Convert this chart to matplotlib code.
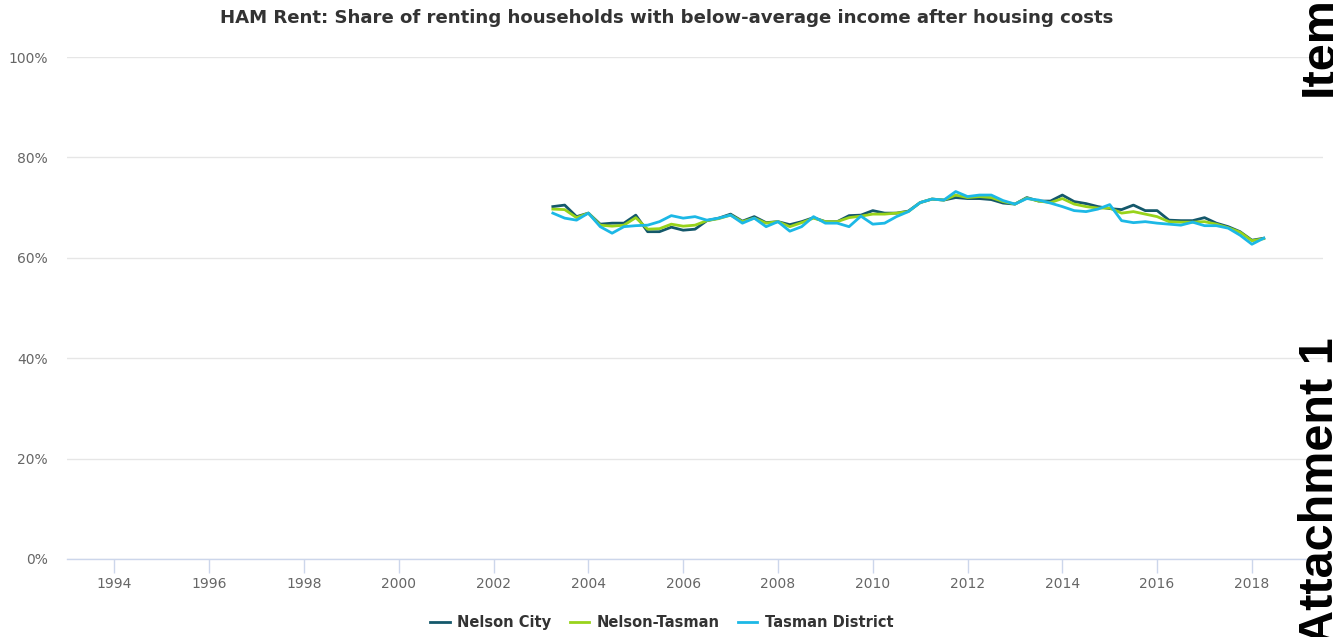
import matplotlib.pyplot as plt
import numpy as np

# Quarterly series, first quarter 2003.25 through 2018.25
start_year = 2003.25
nelson_city = [
    70.2, 70.5, 68.2, 68.9, 66.7, 66.9, 66.9, 68.5, 65.2, 65.2,
    66.1, 65.5, 65.7, 67.4, 67.9, 68.7, 67.3, 68.2, 67.0, 67.2,
    66.6, 67.2, 68.0, 67.2, 67.2, 68.4, 68.5, 69.4, 68.9, 68.9,
    69.3, 71.0, 71.7, 71.5, 72.0, 71.8, 71.8, 71.6, 70.9, 70.7,
    72.0, 71.3, 71.3, 72.5, 71.2, 70.8, 70.2, 69.8, 69.6, 70.5,
    69.4, 69.4, 67.5, 67.4, 67.4, 68.0, 66.9, 66.2, 65.2, 63.5,
    63.9,
]
nelson_tasman = [
    69.7, 69.6, 68.0, 68.9, 66.5, 66.3, 66.5, 68.0, 65.7, 65.8,
    66.7, 66.3, 66.5, 67.4, 67.8, 68.5, 67.2, 67.9, 66.9, 67.2,
    66.2, 67.0, 67.9, 67.2, 67.2, 68.0, 68.3, 68.7, 68.7, 68.9,
    69.2, 71.0, 71.7, 71.5, 72.5, 72.0, 72.2, 72.0, 71.2, 70.7,
    71.9, 71.3, 71.0, 71.8, 70.7, 70.2, 69.9, 69.9, 68.9, 69.2,
    68.7, 68.2, 67.2, 67.1, 67.1, 67.2, 66.7, 66.0, 65.1, 63.4,
    63.8,
]
tasman_district = [
    68.9, 67.9, 67.5, 68.9, 66.2, 64.9, 66.2, 66.4, 66.5, 67.2,
    68.4, 67.9, 68.2, 67.5, 67.9, 68.5, 66.9, 67.9, 66.2, 67.2,
    65.3, 66.2, 68.2, 66.9, 66.9, 66.2, 68.3, 66.7, 66.9, 68.2,
    69.2, 71.0, 71.7, 71.5, 73.2, 72.2, 72.5, 72.5, 71.4, 70.7,
    71.8, 71.5, 70.9, 70.2, 69.4, 69.2, 69.7, 70.6, 67.4, 67.0,
    67.2, 66.9, 66.7, 66.5, 67.1, 66.4, 66.4, 65.9, 64.5, 62.7,
    63.9,
]
series_names = ["Nelson City", "Nelson-Tasman", "Tasman District"]
series_colors = ["#14586b", "#98d31b", "#1cb8e6"]
year_ticks = list(range(1994, 2019, 2))
pct_ticks = [0, 20, 40, 60, 80, 100]

years = start_year + 0.25 * np.arange(len(nelson_city))

plt.rcParams["font.family"] = ["DejaVu Sans"]

fig = plt.figure(figsize=(13.33, 6.37), dpi=100)
ax = fig.add_axes([0.0503, 0.1225, 0.9422, 0.788])

for vals, name, col in zip([nelson_city, nelson_tasman, tasman_district],
                           series_names, series_colors):
    ax.plot(years, vals, color=col, lw=2.0, label=name, solid_joinstyle="round")

ax.set_xlim(1993, 2019.5)
ax.set_ylim(0, 100)
ax.set_xticks(year_ticks)
ax.set_yticks(pct_ticks)
ax.set_yticklabels([f"{p}%" for p in pct_ticks])

for s in ["top", "right", "left"]:
    ax.spines[s].set_visible(False)
ax.spines["bottom"].set_color("#ccd6eb")
ax.spines["bottom"].set_linewidth(1)
ax.grid(axis="y", color="#e6e6e6", lw=1)
ax.set_axisbelow(True)
ax.tick_params(axis="x", length=10, color="#ccd6eb", width=1,
               labelsize=10, labelcolor="#666666", pad=3)
ax.tick_params(axis="y", length=0, labelsize=10, labelcolor="#666666", pad=14)

fig.text(0.5, 0.972, "HAM Rent: Share of renting households with below-average income after housing costs",
         ha="center", va="center", fontsize=13.1, fontweight="bold", color="#333333")

leg = fig.legend(loc="center", bbox_to_anchor=(0.4965, 0.022), ncol=3, frameon=False,
                 handlelength=1.35, handletextpad=0.5, columnspacing=1.25,
                 prop={"size": 10.5, "weight": "bold"})
for t in leg.get_texts():
    t.set_color("#333333")

# Stamp text along the right edge
fig.text(1333 / 1333, 1 - 96 / 637, "Item", rotation=90, rotation_mode="anchor",
         ha="left", va="baseline", fontsize=35, fontweight="bold",
         family="Liberation Sans", color="black")
fig.text(1333 / 1333, 1 - 337 / 637, "Attachment 1", rotation=90, rotation_mode="anchor",
         ha="right", va="baseline", fontsize=35, fontweight="bold",
         family="Liberation Sans", color="black")

fig.savefig("out.png", dpi=100)
